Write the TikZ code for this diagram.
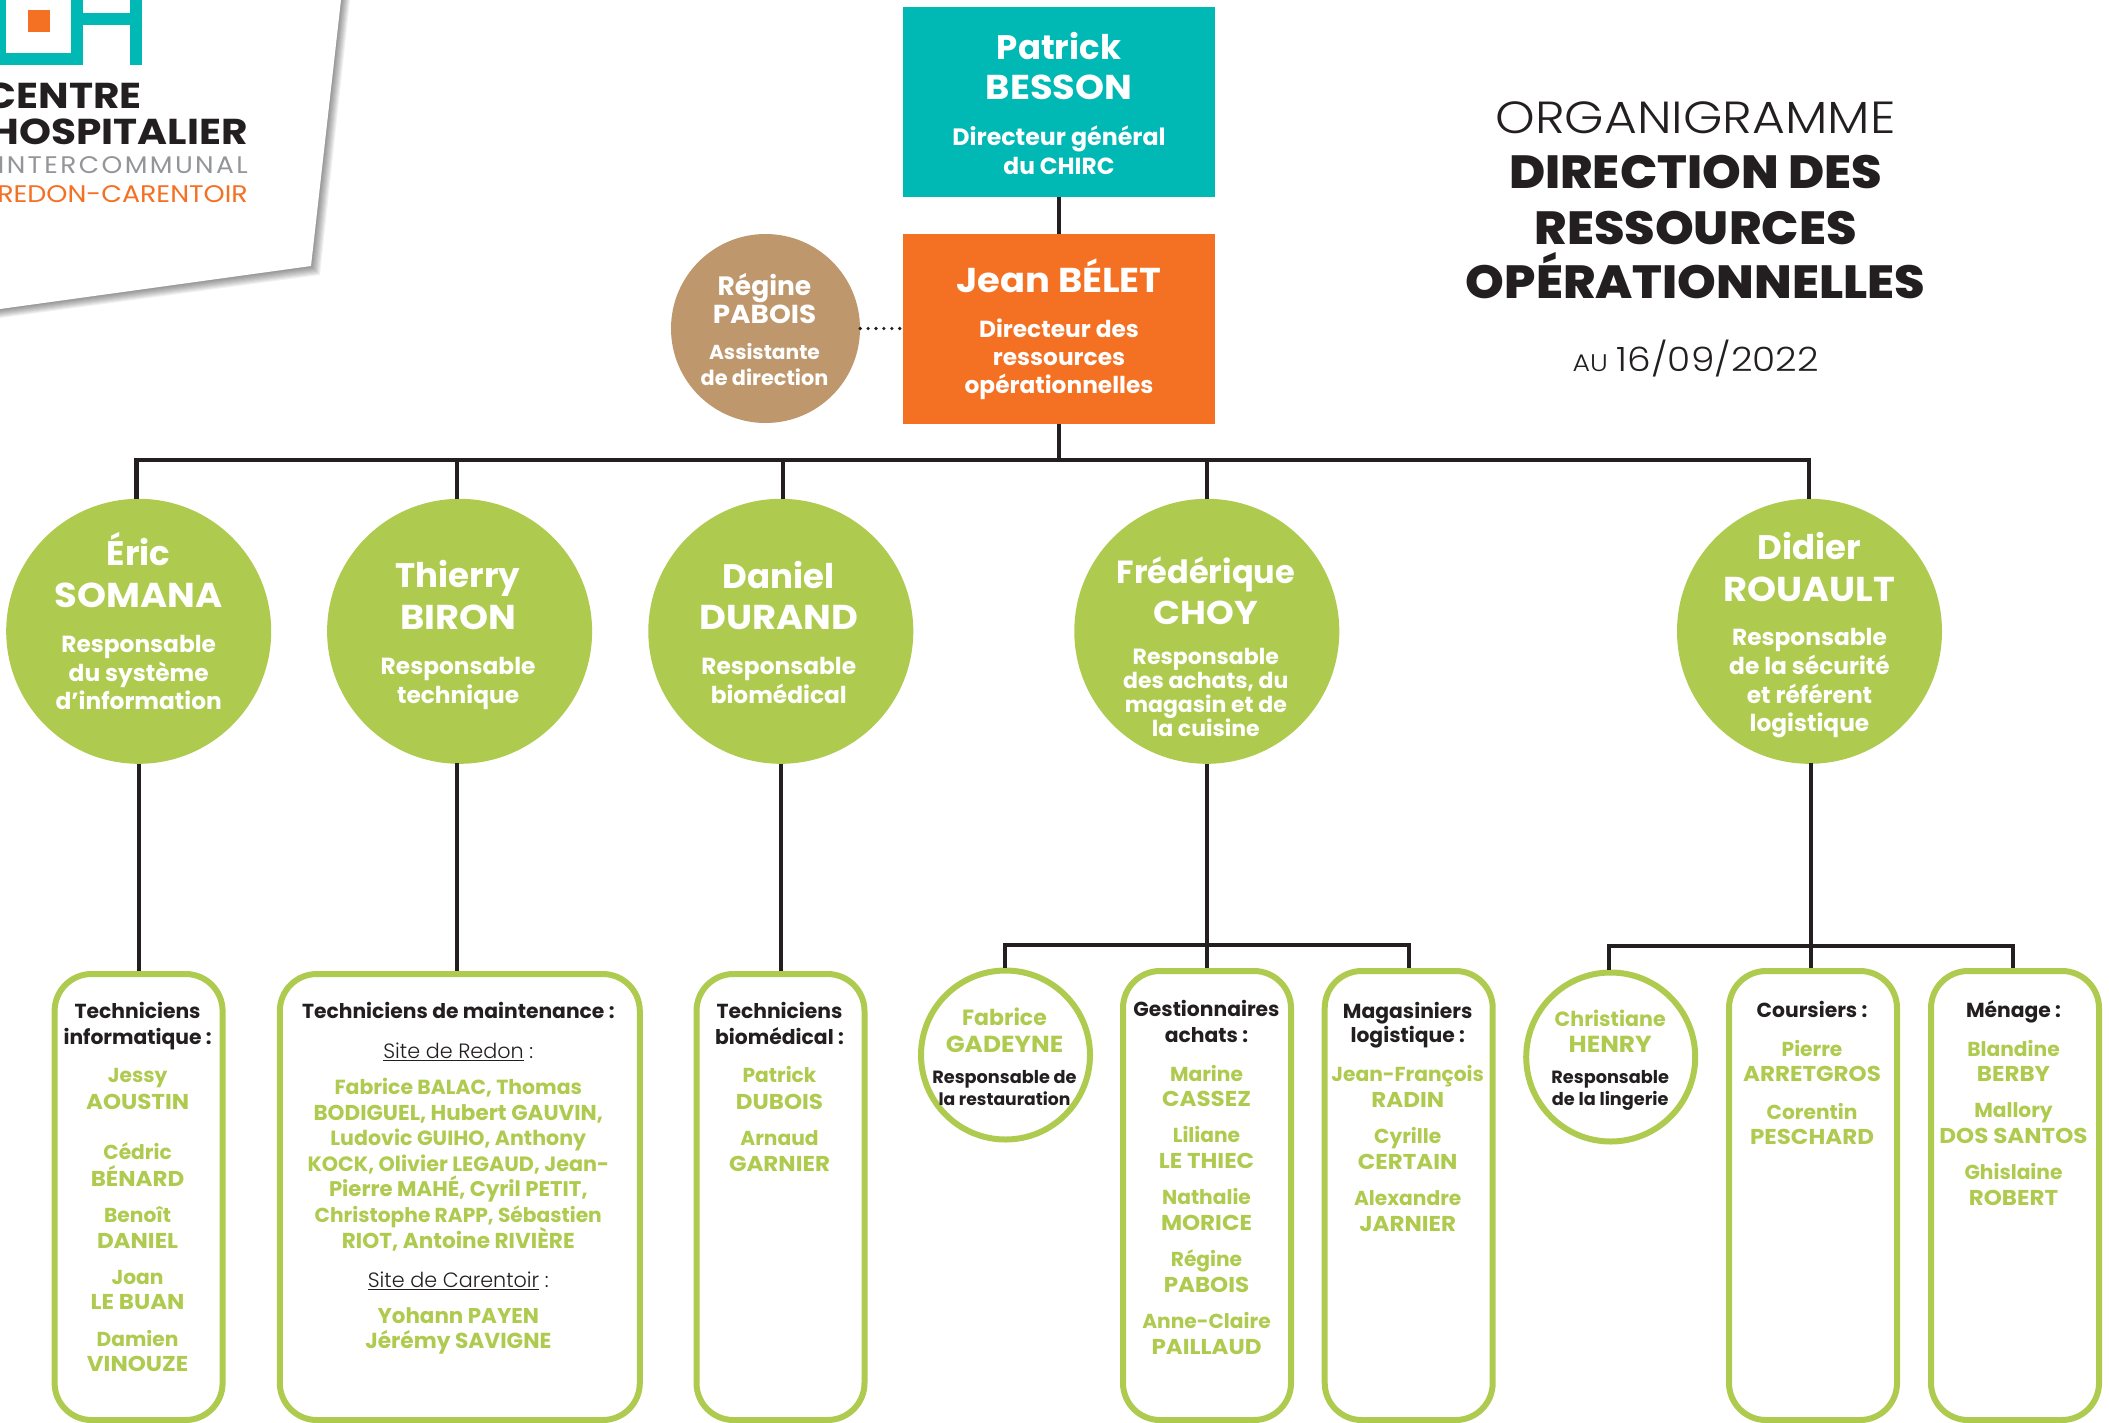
\documentclass[tikz,border=0pt]{standalone}
\usepackage{fontspec}
\setmainfont{Poppins}
\newfontfamily\pbold{Poppins Bold}
\newfontfamily\pcap[FakeStretch=1.07]{Poppins Bold}
\newfontfamily\plogo[FakeStretch=1.13]{Poppins Bold}
\newfontfamily\plia[FakeStretch=1.1,LetterSpace=10]{Poppins}
\newfontfamily\plib[FakeStretch=1.12]{Poppins}
\newfontfamily\ptx[FakeStretch=1.06]{Poppins ExtraBold}
\newfontfamily\plight{Poppins Light}
\newfontfamily\ptl[FakeStretch=1.12]{Poppins Light}
\definecolor{teal1}{HTML}{00B8B4}
\definecolor{oran}{HTML}{F47022}
\definecolor{tan1}{HTML}{BF976C}
\definecolor{gre}{HTML}{AFCB4F}
\definecolor{blk}{HTML}{231F20}
\definecolor{gry}{HTML}{939598}
\newdimen\XO
\def\CY{0}
\newcommand\pos[2]{\def\CY{#1}\XO=#2pt\relax}
\newcommand\li[2]{\hbox to 0pt{\hss\raisebox{\dimexpr\CY pt-#1pt-0.8pt\relax}[0pt][0pt]{\kern\XO\kern\XO #2}\hss}}
\newcommand\fs[1]{\fontsize{#1}{#1}\selectfont}
\newcommand\nmw{\color{white}\pbold\fs{34}}
\newcommand\nmc{\color{white}\pcap\fs{34.5}}
\newcommand\rlw{\color{white}\pbold\fs{23.3}}
\newcommand\rlf{\color{white}\pbold\fs{22}}
\newcommand\tnm{\color{gre}\pbold\fs{20.2}}
\newcommand\tnc{\color{gre}\pcap\fs{21.5}}
\newcommand\tnl[1]{\color{gre}\pbold\fs{#1}}
\newcommand\hdb{\color{blk}\pbold\fs{20.3}}
\newcommand\sm{\color{blk}\pbold\fs{17.7}}
\newcommand\sit{\color{blk}\plight\fs{20.7}}
\tikzset{
 conn/.style={draw=blk,line width=4.3pt,line join=miter},
 top/.style={rectangle,inner sep=0pt,minimum width=312pt,minimum height=190pt},
 circ/.style={circle,inner sep=0pt,minimum size=265pt,fill=gre},
 staff/.style={rectangle,draw=gre,line width=6pt,fill=white,rounded corners=37pt,inner sep=0pt,minimum width=168pt},
 ring/.style={circle,draw=gre,line width=6pt,fill=white,inner sep=0pt,minimum size=169pt},
 logot/.style={inner sep=0pt,anchor=base east}
}
\begin{document}
\begin{tikzpicture}[x=1pt,y=-1pt]
\useasboundingbox (0,0) rectangle (2109,1422);
\clip (0,0) rectangle (2109,1422);
% logo panel
\foreach \d in {9,8,7,6,5,4,3,2,1}{
  \fill[black,opacity=0.055] (341+\d,0) -- (311+\d,266+\d) -- (0,309+\d) -- (0,0) -- cycle;
}
\fill[white] (341,0) -- (311,266) -- (0,309) -- (0,0) -- cycle;
\fill[teal1] (0,0) rectangle (6,65);
\fill[teal1] (0,53) rectangle (83,65);
\fill[teal1] (71,0) rectangle (83,65);
\fill[teal1] (83,13) rectangle (130,25);
\fill[teal1] (130,0) rectangle (142,65);
\fill[oran] (28,10) rectangle (50,32);
\node[logot,text=blk] (lg1) at (142,108) {\plogo\fs{36}CENTRE};
\node[logot,text=blk] (lg2) at (248,144) {\plogo\fs{36}HOSPITALIER};
\node[logot,text=gry] (lg3) at (248,173) {\plia\fs{24}INTERCOMMUNAL};
\node[logot,text=oran] (lg4) at (248,202) {\plib\fs{24}REDON-CARENTOIR};
% title
\node[inner sep=0pt] (title) at (1695.5,230) {\pos{230}{0}%
 \li{133}{\color{blk}\ptl\fs{45}ORGANIGRAMME}%
 \li{188}{\color{blk}\ptx\fs{46.5}DIRECTION DES}%
 \li{243.3}{\color{blk}\ptx\fs{46.5}RESSOURCES}%
 \li{298}{\color{blk}\ptx\fs{46.5}OPÉRATIONNELLES}%
 \li{371}{\color{blk}\ptl\fs{24}AU\kern 9pt\fs{33.5}16/09/2022}};
% top boxes
\node[top,fill=teal1] (pb) at (1059,102) {\pos{102}{0}%
 \li{59}{\nmw Patrick}\li{99}{\nmc BESSON}\li{145}{\color{white}\pbold\fs{23.7}Directeur général}\li{174}{\rlw du CHIRC}};
\node[top,fill=oran] (jb) at (1059,329) {\pos{329}{0}%
 \li{292}{\nmc Jean BÉLET}\li{337}{\rlw Directeur des}\li{365}{\rlw ressources}\li{393}{\rlw opérationnelles}};
\node[circle,inner sep=0pt,minimum size=189pt,fill=tan1] (rp) at (765.5,328.5) {\pos{328.5}{-1}%
 \li{295}{\color{white}\pbold\fs{26.5}Régine}\li{323}{\color{white}\pcap\fs{26}PABOIS}%
 \li{359}{\color{white}\pbold\fs{20.2}Assistante}\li{385}{\color{white}\pbold\fs{20.8}de direction}};
% managers
\node[circ] (eric) at (138.7,631.3) {\pos{631.3}{0}%
 \li{564.3}{\nmw Éric}\li{606.7}{\nmc SOMANA}\li{651.7}{\rlw Responsable}\li{680.7}{\rlw du système}\li{709}{\rlw d’information}};
\node[circ] (thie) at (459.6,631.3) {\pos{631.3}{-1.5}%
 \li{586.7}{\nmw Thierry}\li{629}{\nmc BIRON}\li{673.3}{\rlw Responsable}\li{702.3}{\rlw technique}};
\node[circ] (dani) at (780.8,631.3) {\pos{631.3}{-2}%
 \li{587.3}{\nmw Daniel}\li{629}{\nmc DURAND}\li{674}{\rlw Responsable}\li{702.3}{\rlw biomédical}};
\node[circ] (fred) at (1206.8,631.3) {\pos{631.3}{-1}%
 \li{582.7}{\color{white}\pbold\fs{32}Frédérique}\li{623.3}{\color{white}\pcap\fs{33}CHOY}\li{663.3}{\rlf Responsable}\li{687.7}{\rlf des achats, du}\li{711.7}{\rlf magasin et de}\li{735.7}{\rlf la cuisine}};
\node[circ] (didi) at (1809.5,631.3) {\pos{631.3}{0}%
 \li{559}{\nmw Didier}\li{600.7}{\nmc ROUAULT}\li{645}{\rlw Responsable}\li{673.3}{\rlw de la sécurité}\li{702.3}{\rlw et référent}\li{731}{\rlw logistique}};
% staff boxes
\node[staff,minimum height=446pt] (b1) at (138.6,1197) {\pos{1197}{-1}%
 \li{1018}{\hdb Techniciens}\li{1043.3}{\hdb informatique :}%
 \li{1082}{\tnm Jessy}\li{1109}{\tnc AOUSTIN}\li{1159}{\tnm Cédric}\li{1185.7}{\tnc BÉNARD}%
 \li{1221.7}{\tnm Benoît}\li{1247.7}{\tnc DANIEL}\li{1284}{\tnm Joan}\li{1309}{\tnc LE BUAN}%
 \li{1345.7}{\tnm Damien}\li{1371}{\tnc VINOUZE}};
\node[staff,minimum width=360pt,minimum height=446pt] (b2) at (459.8,1197) {\pos{1197}{-1.5}%
 \li{1018}{\hdb Techniciens de maintenance :}%
 \li{1057.7}{\sit\underline{Site de Redon} :}%
 \li{1094}{\tnl{20.4}Fabrice BALAC, Thomas}\li{1120}{\tnl{21.5}BODIGUEL, Hubert GAUVIN,}%
 \li{1145}{\tnl{20.6}Ludovic GUIHO, Anthony}\li{1170.7}{\tnl{20.7}KOCK, Olivier LEGAUD, Jean-}%
 \li{1196}{\tnl{21.2}Pierre MAHÉ, Cyril PETIT,}\li{1221.7}{\tnl{20.2}Christophe RAPP, Sébastien}%
 \li{1247.7}{\tnl{21.6}RIOT, Antoine RIVIÈRE}%
 \li{1286.7}{\sit\underline{Site de Carentoir} :}%
 \li{1322.7}{\tnl{21.4}Yohann PAYEN}\li{1347.7}{\tnl{21.7}Jérémy SAVIGNE}};
\node[staff,minimum height=446pt] (b3) at (780.5,1197) {\pos{1197}{-1}%
 \li{1018}{\hdb Techniciens}\li{1043.3}{\hdb biomédical :}%
 \li{1082}{\tnm Patrick}\li{1109}{\tnc DUBOIS}\li{1145}{\tnm Arnaud}\li{1170.7}{\tnc GARNIER}};
\node[ring] (fg) at (1005.5,1055) {\pos{1055}{-1}%
 \li{1025}{\color{gre}\pbold\fs{22}Fabrice}\li{1051.7}{\color{gre}\pcap\fs{23.2}GADEYNE}%
 \li{1082.3}{\sm Responsable de}\li{1105}{\color{blk}\pbold\fs{17.2}la restauration}};
\node[staff,minimum height=449pt] (b4) at (1207,1195.5) {\pos{1195.5}{-0.5}%
 \li{1016}{\hdb Gestionnaires}\li{1041.7}{\hdb achats :}%
 \li{1081}{\tnm Marine}\li{1105.7}{\tnc CASSEZ}\li{1142}{\tnm Liliane}\li{1167.7}{\tnc LE THIEC}%
 \li{1204}{\tnm Nathalie}\li{1229.3}{\tnc MORICE}\li{1266}{\tnm Régine}\li{1291.7}{\tnc PABOIS}%
 \li{1328}{\tnm Anne-Claire}\li{1354}{\tnc PAILLAUD}};
\node[staff,minimum height=449pt] (b5) at (1408.7,1195.5) {\pos{1195.5}{-1}%
 \li{1017.3}{\hdb Magasiniers}\li{1042}{\hdb logistique :}%
 \li{1081}{\tnm Jean-François}\li{1106.7}{\tnc RADIN}\li{1142.7}{\tnm Cyrille}\li{1169}{\tnc CERTAIN}%
 \li{1205}{\tnm Alexandre}\li{1231}{\tnc JARNIER}};
\node[ring] (ch) at (1610.7,1057) {\pos{1057}{-0.5}%
 \li{1026}{\color{gre}\pbold\fs{20.6}Christiane}\li{1052}{\color{gre}\pcap\fs{23.2}HENRY}%
 \li{1082.3}{\sm Responsable}\li{1105}{\sm de la lingerie}};
\node[staff,minimum height=449pt] (b6) at (1813,1195.5) {\pos{1195.5}{-1}%
 \li{1016.7}{\hdb Coursiers :}%
 \li{1056}{\tnm Pierre}\li{1081}{\tnc ARRETGROS}\li{1118.3}{\tnm Corentin}\li{1143.3}{\tnc PESCHARD}};
\node[staff,minimum height=449pt] (b7) at (2015,1195.5) {\pos{1195.5}{-1.5}%
 \li{1016.7}{\hdb Ménage :}%
 \li{1056}{\tnm Blandine}\li{1081}{\tnc BERBY}\li{1117}{\tnm Mallory}\li{1142.7}{\tnc DOS SANTOS}%
 \li{1179}{\tnm Ghislaine}\li{1205}{\tnc ROBERT}};
% connectors
\coordinate (bE) at (136.6,460);
\coordinate (bT) at (457.3,460);
\coordinate (bD) at (782.7,460);
\coordinate (bJ) at (1059,460);
\coordinate (bF) at (1207,460);
\coordinate (bR) at (1809,460);
\draw[conn] (pb.south) -- (jb.north);
\draw[conn] (jb.south) -- (bJ);
\draw[conn] (bE |- eric.north) -- (bE) -- (bR) -- (bR |- didi.north);
\draw[conn] (bT) -- (bT |- thie.north);
\draw[conn] (bD) -- (bD |- dani.north);
\draw[conn] (bF) -- (bF |- fred.north);
\draw[blk,line width=3.6pt,line cap=round,dash pattern=on 0pt off 7.9pt] (rp.east) -- (jb.west |- rp.east);
\draw[conn] (eric.south) -- (eric.south |- b1.north);
\coordinate (t2) at (457.3,763);
\draw[conn] (t2) -- (t2 |- b2.north);
\draw[conn] (dani.south) -- (dani.south |- b3.north);
\coordinate (fd) at (1206.8,944.7);
\coordinate (fl) at (1004.8,944.7);
\coordinate (fr) at (1409,944.7);
\draw[conn] (fred.south) -- (fd);
\draw[conn] (fl |- fg.north) -- (fl) -- (fr) -- (fr |- b5.north);
\draw[conn] (fd) -- (fd |- b4.north);
\coordinate (dd) at (1811,946);
\coordinate (dl) at (1609,946);
\coordinate (dr) at (2013,946);
\coordinate (d2) at (1811,763);
\draw[conn] (d2) -- (dd);
\draw[conn] (dl |- ch.north) -- (dl) -- (dr) -- (dr |- b7.north);
\draw[conn] (dd) -- (dd |- b6.north);
\end{tikzpicture}
\end{document}
